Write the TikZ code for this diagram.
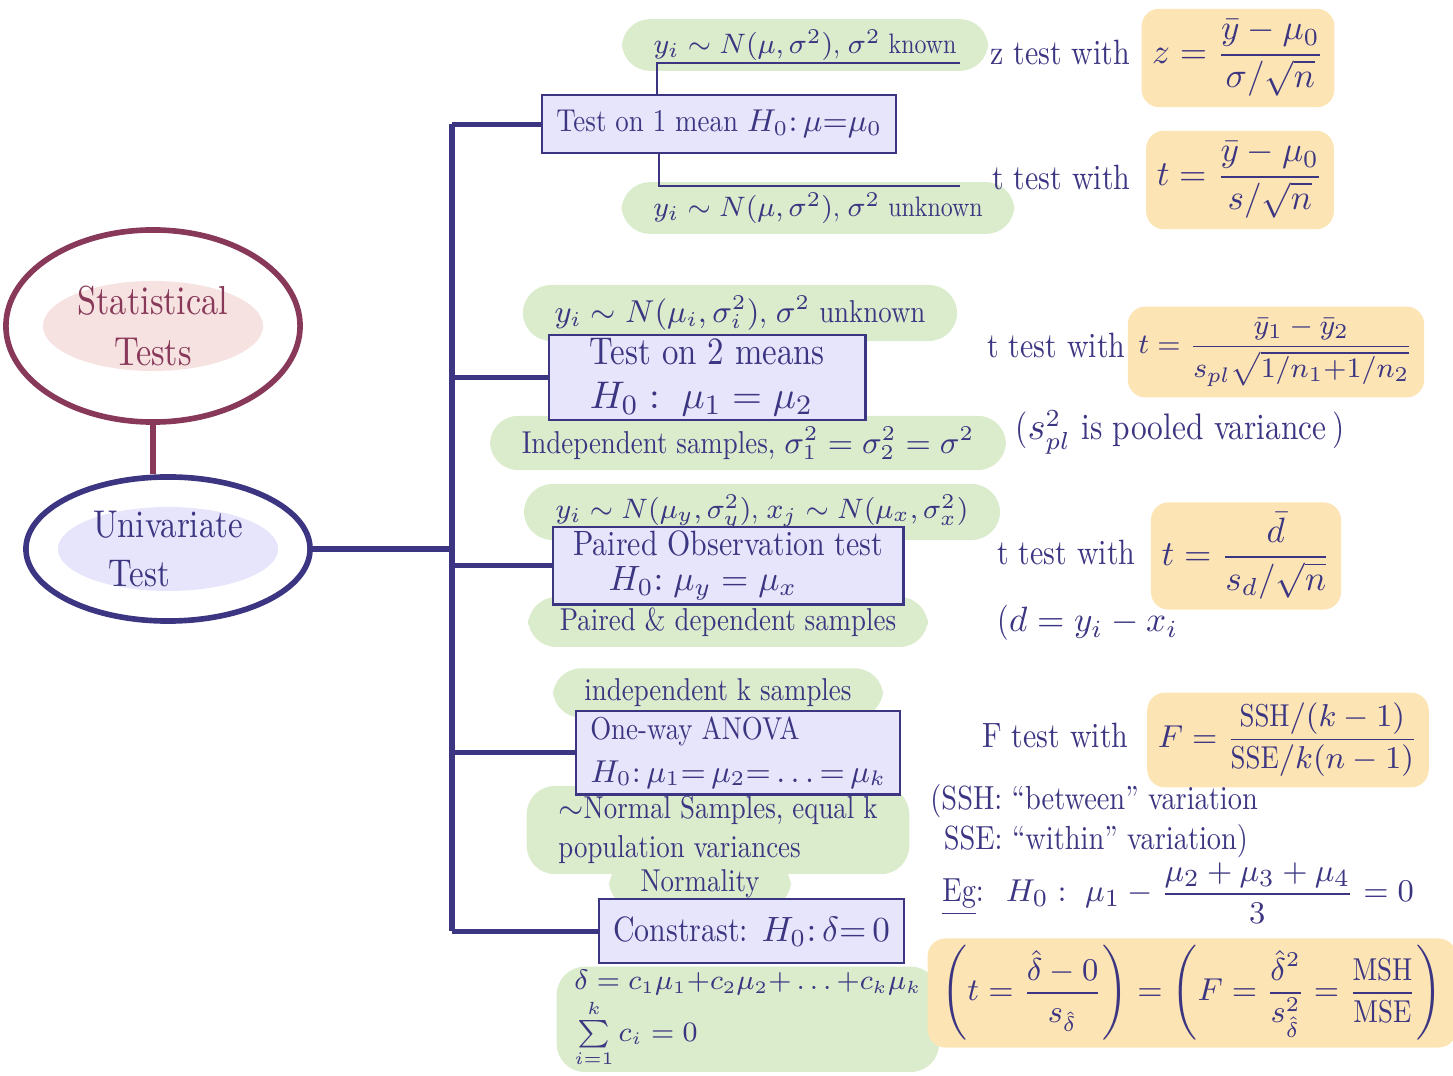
\documentclass[tikz,border=0pt]{standalone}
\usepackage{amsmath}
\usepackage{fontspec}
\setmainfont{lmroman10-regular.otf}[FakeStretch=0.85]
\usepackage{tikz}
\usepackage{xcolor}
\usetikzlibrary{shapes.geometric}

\definecolor{ink}{RGB}{60,54,130}
\definecolor{wine}{RGB}{136,56,88}
\definecolor{lav}{RGB}{231,229,251}
\definecolor{rosy}{RGB}{247,226,226}
\definecolor{leaf}{RGB}{219,236,204}
\definecolor{sand}{RGB}{252,228,180}

\tikzset{
  hand/.style={text=ink,font=\fontsize{10}{12}\selectfont},
  testbox/.style 2 args={hand,draw=ink,fill=lav,line width=.7pt,align=left,
    anchor=north west,inner xsep=4pt,inner ysep=1pt,minimum width=#1,minimum height=#2},
  cond/.style={hand,font=\fontsize{9}{11}\selectfont,fill=leaf,
    rounded corners=8pt,inner xsep=9pt,inner ysep=3pt},
  formula/.style={hand,fill=sand,rounded corners=5pt,inner sep=3pt},
  trunk/.style={draw=ink,line width=1.5pt},
  twig/.style={draw=ink,line width=.7pt}
}

\begin{document}
\begin{tikzpicture}[x=.01cm,y=-.01cm]
  \useasboundingbox (0,0) rectangle (1453,1076);

  \node (stat) [ellipse,draw=wine,line width=1.6pt,minimum width=2.94cm,
    minimum height=1.92cm,text=wine,font=\fontsize{11.5}{14.5}\selectfont,align=center,
    path picture={\fill[rosy,rotate=12] (path picture bounding box.center) ellipse (1.1cm and .45cm);}]
    at (153,326) {Statistical\\Tests};
  \node (univ) [ellipse,draw=ink,line width=1.6pt,minimum width=2.84cm,inner sep=0pt,
    minimum height=1.44cm,text=ink,font=\fontsize{11}{14}\selectfont,align=left,
    path picture={\fill[lav,rotate=15] (path picture bounding box.center) ellipse (1.1cm and .42cm);}]
    at (168,549) {Univariate\\\hspace*{.4em}Test};
  \draw[wine,line width=1.6pt] (stat.south) -- (stat.south |- univ.north);

  \node (c1a) [cond,font=\fontsize{8}{10}\selectfont] at (805,45) {$y_i\sim N(\mu,\sigma^2)$, $\sigma^2$ known};
  \node (c1b) [cond,font=\fontsize{8}{10}\selectfont] at (818,208) {$y_i\sim N(\mu,\sigma^2)$, $\sigma^2$ unknown};
  \node (c2a) [cond] at (740,313) {$y_i\sim N(\mu_i,\sigma_i^2)$, $\sigma^2$ unknown};
  \node (c2b) [cond] at (748,443) {Independent samples, $\sigma_1^2=\sigma_2^2=\sigma^2$};
  \node (c3a) [cond,font=\fontsize{8.3}{10}\selectfont] at (762,512) {$y_i\sim N(\mu_y,\sigma_y^2)$, $x_j\sim N(\mu_x,\sigma_x^2)$};
  \node (c3b) [cond] at (728,622) {Paired \& dependent samples};
  \node (c4a) [cond] at (718,693) {independent k samples};
  \node (c4b) [cond,align=left] at (718,830) {${\sim}$Normal Samples, equal k\\population variances};
  \node (c5a) [cond] at (700,884) {Normality};
  \node (c5b) [cond,align=left,anchor=north west,inner xsep=5pt,inner ysep=1pt,
    font=\fontsize{7.8}{9.5}\selectfont] at (556,966)
    {$\delta=c_1\mu_1{+}c_2\mu_2{+}\dots{+}c_k\mu_k$\\[0pt]$\sum\limits_{i=1}^{k}c_i=0$};

  \node (b1) [testbox={3.45cm}{.58cm},font=\fontsize{9}{11}\selectfont] at (541,94)
    {Test on 1 mean $H_0{:}\,\mu{=}\mu_0$};
  \node (b2) [testbox={3.16cm}{.84cm},font=\fontsize{11}{12.5}\selectfont] at (548,334)
    {Test on 2 means\\$H_0:\ \mu_1=\mu_2$};
  \node (b3) [testbox={3.50cm}{.69cm},font=\fontsize{10}{10}\selectfont] at (552,526)
    {Paired Observation test\\\hspace*{1em}$H_0{:}\ \mu_y=\mu_x$};
  \node (b4) [testbox={2.82cm}{.83cm},font=\fontsize{9}{12}\selectfont] at (575,710)
    {One-way ANOVA\\$H_0{:}\,\mu_1{=}\,\mu_2{=}\ldots{=}\,\mu_k$};
  \node (b5) [testbox={3.00cm}{.64cm},align=center,font=\fontsize{10}{12}\selectfont] at (598,898)
    {Constrast: $H_0{:}\,\delta{=}\,0$};

  \node (ztxt) [hand,anchor=base west] at (978,65) {z test with};
  \node (zfrm) [formula] at (1238,58) {$z=\dfrac{\bar y-\mu_0}{\sigma/\sqrt{n}}$};
  \node (ttx1) [hand,anchor=base west] at (980,190) {t test with};
  \node (tfr1) [formula] at (1240,180) {$t=\dfrac{\bar y-\mu_0}{s/\sqrt{n}}$};
  \node (ttx2) [hand,anchor=base west] at (975,358) {t test with};
  \node (tfr2) [formula,font=\fontsize{8}{10}\selectfont] at (1276,352)
    {$t=\dfrac{\bar y_1-\bar y_2}{s_{pl}\sqrt{1/n_1{+}1/n_2}}$};
  \node (pool) [hand,anchor=base west,font=\fontsize{10.5}{12}\selectfont] at (1003,440)
    {($s^2_{pl}$ is pooled variance\,)};
  \node (ttx3) [hand,anchor=base west] at (985,565) {t test with};
  \node (tfr3) [formula] at (1246,556) {$t=\dfrac{\bar d}{s_d/\sqrt{n}}$};
  \node (dif) [hand,anchor=base west] at (985,632) {($d=y_i-x_i$};
  \node (ftxt) [hand,anchor=base west] at (970,748) {F test with};
  \node (ffrm) [formula,font=\fontsize{9}{11}\selectfont] at (1288,740)
    {$F=\dfrac{\text{SSH}/(k-1)}{\text{SSE}/k(n-1)}$};
  \node (ssn) [hand,anchor=north west,align=left,font=\fontsize{9.5}{11.5}\selectfont] at (918,772)
    {(SSH: ``between'' variation\\\hspace*{.4em}SSE: ``within'' variation)};
  \node (eg) [hand,anchor=west,font=\fontsize{9.5}{11}\selectfont] at (930,893)
    {\underline{Eg}: \ $H_0:\ \mu_1-\dfrac{\mu_2+\mu_3+\mu_4}{3}=0$};
  \node (eqn) [formula,inner xsep=4pt,inner ysep=2pt,font=\fontsize{9}{11}\selectfont] at (1192,993)
    {$\left(t=\dfrac{\hat\delta-0}{s_{\hat\delta}}\right)=\left(F=\dfrac{\hat\delta^{2}}{s^{2}_{\hat\delta}}=\dfrac{\text{MSH}}{\text{MSE}}\right)$};

  \coordinate (tr) at (452,0);
  \draw[trunk] (b1.west -| tr) -- (b5.west -| tr);
  \draw[trunk] (univ.east) -- (univ.east -| tr);
  \draw[trunk] (b1.west -| tr) -- (b1.west);
  \draw[trunk] (b2.west -| tr) -- (b2.west);
  \draw[trunk] (b3.west -| tr) -- (b3.west);
  \draw[trunk] (b4.west -| tr) -- (b4.west);
  \draw[trunk] (b5.west -| tr) -- (b5.west);

  \path (node cs:name=b1,anchor=north west) +(116,0) coordinate (b1u);
  \path (node cs:name=ztxt,anchor=base west) +(-18,-2) coordinate (zend);
  \draw[twig] (b1u) |- (zend);
  \path (node cs:name=b1,anchor=south west) +(118,0) coordinate (b1d);
  \path (node cs:name=ttx1,anchor=base west) +(-20,-4) coordinate (tend);
  \draw[twig] (b1d) |- (tend);
\end{tikzpicture}
\end{document}
